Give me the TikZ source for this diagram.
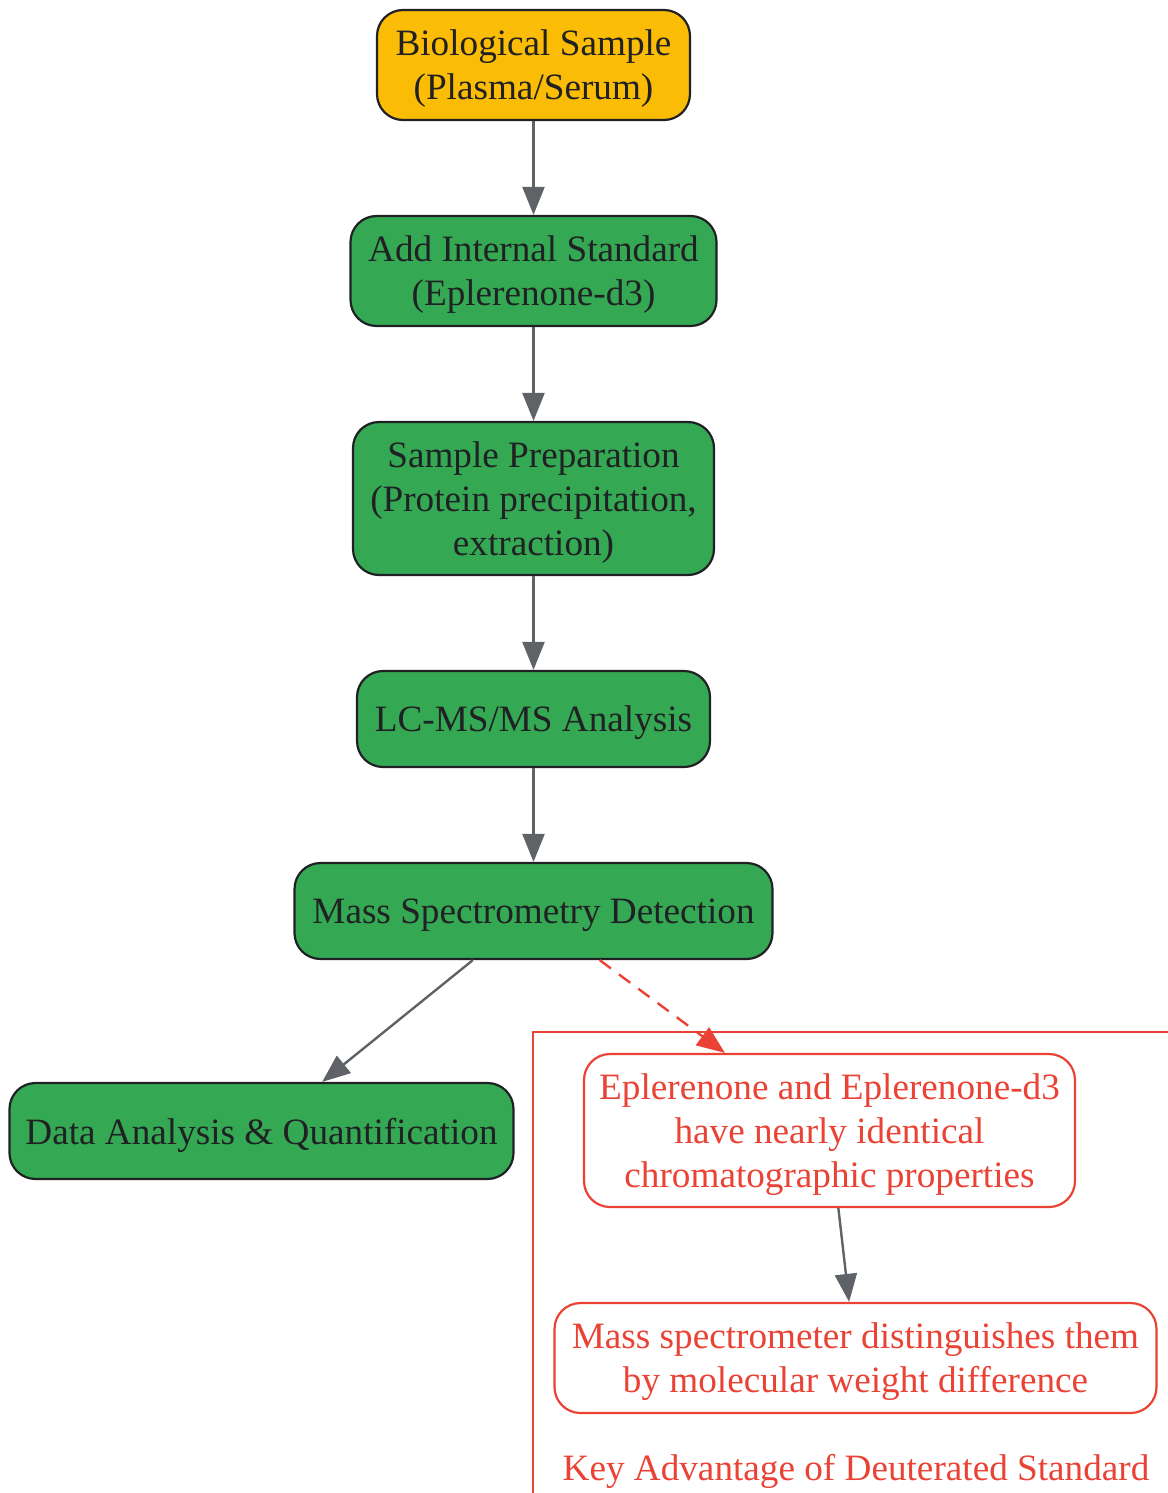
\documentclass[tikz,border=0pt]{standalone}
\usepackage{fontspec}
\setmainfont{Liberation Serif}
\usetikzlibrary{shapes.geometric, arrows.meta}
\usetikzlibrary{positioning}
\definecolor{bioyellow}{HTML}{FBBC05}
\definecolor{stepgreen}{HTML}{34A853}
\definecolor{keyred}{HTML}{EA4335}
\definecolor{arrowgray}{HTML}{5F6368}
\definecolor{darktext}{HTML}{202124}
\tikzstyle{samplebox} = [rectangle, rounded corners=13pt, minimum height=48pt, text centered,
align=center, text depth=0pt, draw=darktext, line width=1.1pt, text=darktext, font=\fontsize{18.6pt}{22pt}\selectfont]
\tikzstyle{startbox} = [samplebox, fill=bioyellow]
\tikzstyle{stepbox} = [samplebox, fill=stepgreen]
\tikzstyle{keybox} = [samplebox, draw=keyred, fill=white, text=keyred]
\tikzstyle{arrow} = [line width=1.2pt, draw=arrowgray, -{Triangle[length=14pt,width=11pt]}]

\begin{document}
\begin{tikzpicture} [node distance=46.9pt]
    \useasboundingbox (0,0) rectangle (583.5pt,-746.5pt);
    \node (bio) [startbox, minimum width=156.5pt, minimum height=55pt] at (266.75pt,-32.5pt) {Biological Sample\\(Plasma/Serum)};
    \node (istd) [stepbox, below=of bio, minimum width=183pt, minimum height=55pt] {Add Internal Standard\\(Eplerenone-d3)};
    \node (prep) [stepbox, below=of istd, minimum width=180.5pt, minimum height=76.5pt] {Sample Preparation\\(Protein precipitation,\\extraction)};
    \node (lcms) [stepbox, below=of prep, minimum width=176.5pt] {LC-MS/MS Analysis};
    \node (msdet) [stepbox, below=of lcms, minimum width=239pt] {Mass Spectrometry Detection};
    \node (data) [stepbox, below=60.9pt of msdet, xshift=-136pt, minimum width=252pt] {Data Analysis \& Quantification};

    % cluster: key advantage
    \draw[keyred, line width=1pt] (266.5pt,-516pt) rectangle (600pt,-760pt);
    \node (similar) [keybox, below=46.4pt of msdet, xshift=148pt, minimum width=245.5pt, minimum height=76.5pt] {Eplerenone and Eplerenone-d3\\have nearly identical\\chromatographic properties};
    \node (distinct) [keybox, below=46.9pt of similar, xshift=13pt, minimum width=301pt, minimum height=55pt] {Mass spectrometer distinguishes them\\by molecular weight difference};
    \node (keylabel) [text=keyred, font=\fontsize{18.6pt}{22pt}\selectfont] at (428pt,-735.5pt) {Key Advantage of Deuterated Standard};

    \draw[arrow] (bio) -- (istd);
    \draw[arrow] (istd) -- (prep);
    \draw[arrow] (prep) -- (lcms);
    \draw[arrow] (lcms) -- (msdet);
    \draw[arrow] (msdet) -- (data);
    \draw[arrow, draw=keyred, dash pattern=on 7pt off 5pt] (msdet) -- (similar);
    \draw[arrow] (similar) -- (distinct);

\end{tikzpicture}
\end{document}
